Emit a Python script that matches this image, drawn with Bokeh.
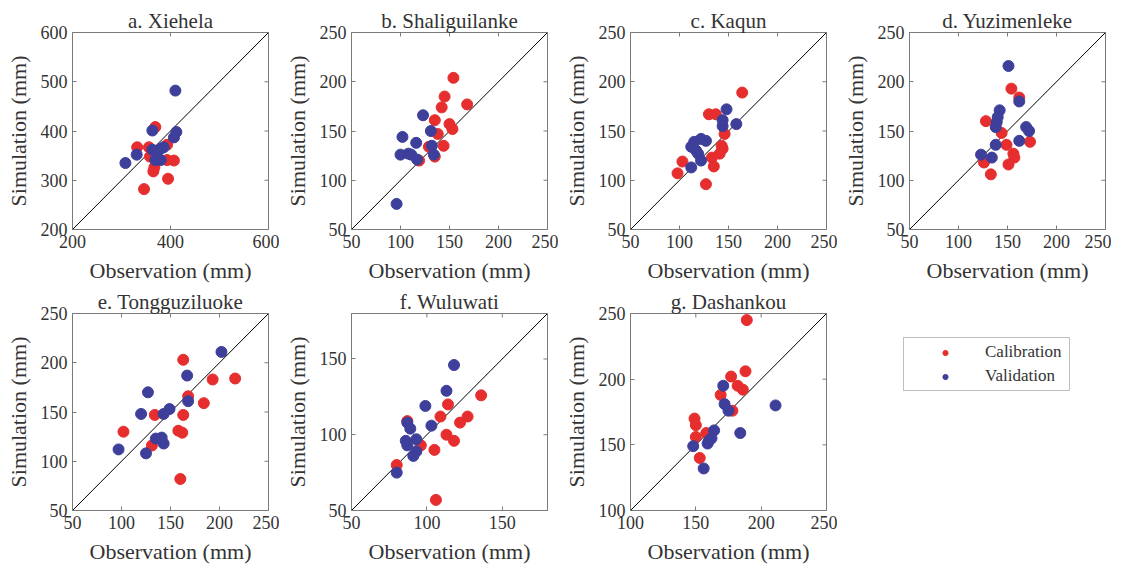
import math
from bokeh.plotting import figure
from bokeh.layouts import column, row
from bokeh.models import FixedTicker, Legend, LegendItem, Range1d
from bokeh.embed import file_html
from bokeh.resources import INLINE

# ---------------- data ----------------
titles = ["a. Xiehela", "b. Shaliguilanke", "c. Kaqun", "d. Yuzimenleke",
          "e. Tongguziluoke", "f. Wuluwati", "g. Dashankou"]
limits = [[200, 600], [50, 250], [50, 250], [50, 250], [50, 250], [50, 180], [100, 250]]
x_ticks = [[200, 400, 600], [50, 100, 150, 200, 250], [50, 100, 150, 200, 250],
           [50, 100, 150, 200, 250], [50, 100, 150, 200, 250], [50, 100, 150],
           [100, 150, 200, 250]]
y_ticks = [[200, 300, 400, 500, 600], [50, 100, 150, 200, 250], [50, 100, 150, 200, 250],
           [50, 100, 150, 200, 250], [50, 100, 150, 200, 250], [50, 100, 150],
           [100, 150, 200, 250]]

xiehela_cal_obs = [332, 356, 358, 369, 393, 393, 407, 367, 365, 346, 395]
xiehela_cal_sim = [367, 367, 348, 408, 372, 341, 340, 326, 318, 282, 303]
xiehela_val_obs = [410, 363, 412, 407, 331, 308, 363, 386, 380, 373, 369, 380]
xiehela_val_sim = [482, 401, 398, 387, 352, 335, 362, 367, 364, 359, 341, 341]

shali_cal_obs = [154, 145, 142, 168, 135, 150, 153, 138, 144, 129, 135, 119]
shali_cal_sim = [204, 185, 174, 177, 161, 157, 152, 147, 135, 134, 124, 120]
shali_val_obs = [96, 100, 102, 108, 111, 116, 117, 123, 131, 132, 134]
shali_val_sim = [76, 126, 144, 127, 126, 138, 121, 166, 150, 135, 126]

kaqun_cal_obs = [164, 130, 137, 146, 143, 144, 141, 133, 135, 103, 98, 127]
kaqun_cal_sim = [189, 167, 167, 147, 135, 132, 127, 123, 114, 119, 107, 96]
kaqun_val_obs = [148, 144, 144, 158, 122, 115, 127, 112, 117, 119, 122, 112]
kaqun_val_sim = [172, 161, 155, 157, 142, 139, 140, 134, 130, 127, 120, 113]

yuzi_cal_obs = [154, 162, 128, 144, 149, 173, 156, 157, 151, 126, 133]
yuzi_cal_sim = [193, 184, 160, 148, 136, 139, 127, 123, 116, 118, 106]
yuzi_val_obs = [151, 162, 142, 140, 139, 138, 169, 172, 162, 138, 123, 134]
yuzi_val_sim = [216, 180, 171, 164, 159, 154, 154, 150, 140, 136, 126, 123]

tong_cal_obs = [163, 193, 216, 184, 168, 163, 134, 102, 158, 162, 131, 160]
tong_cal_sim = [203, 183, 184, 159, 166, 147, 147, 130, 131, 129, 116, 82]
tong_val_obs = [202, 167, 168, 127, 120, 143, 149, 97, 125, 135, 141, 143]
tong_val_sim = [211, 187, 161, 170, 148, 148, 153, 112, 108, 123, 124, 118]

wulu_cal_obs = [136, 114, 109, 127, 122, 113, 118, 105, 96, 87, 80, 106]
wulu_cal_sim = [126, 120, 112, 112, 108, 100, 96, 90, 93, 109, 80, 57]
wulu_val_obs = [118, 113, 99, 103, 87, 89, 86, 87, 93, 93, 91, 80]
wulu_val_sim = [146, 129, 119, 106, 108, 104, 96, 93, 97, 89, 86, 75]

dashan_cal_obs = [189, 188, 177, 182, 186, 169, 178, 149, 150, 150, 158, 153]
dashan_cal_sim = [245, 206, 202, 195, 192, 188, 176, 170, 165, 156, 159, 140]
dashan_val_obs = [171, 211, 172, 175, 164, 162, 159, 160, 184, 148, 156]
dashan_val_sim = [195, 180, 181, 176, 161, 155, 151, 153, 159, 149, 132]

cal_obs = [xiehela_cal_obs, shali_cal_obs, kaqun_cal_obs, yuzi_cal_obs,
           tong_cal_obs, wulu_cal_obs, dashan_cal_obs]
cal_sim = [xiehela_cal_sim, shali_cal_sim, kaqun_cal_sim, yuzi_cal_sim,
           tong_cal_sim, wulu_cal_sim, dashan_cal_sim]
val_obs = [xiehela_val_obs, shali_val_obs, kaqun_val_obs, yuzi_val_obs,
           tong_val_obs, wulu_val_obs, dashan_val_obs]
val_sim = [xiehela_val_sim, shali_val_sim, kaqun_val_sim, yuzi_val_sim,
           tong_val_sim, wulu_val_sim, dashan_val_sim]
legend_labels = ["Calibration", "Validation"]

# ---------------- style ----------------
RED = "#e62e2e"
BLUE = "#3d3f9b"
FONT = "Liberation Serif"
TXT = "#333333"
FRAME = "#7a7a7a"
FW, FH = 196, 197


def style_axis(ax):
    ax.major_tick_in = 4
    ax.major_tick_out = 0
    ax.major_tick_line_color = FRAME
    ax.minor_tick_line_color = None
    ax.axis_line_color = FRAME
    ax.major_label_text_font = FONT
    ax.major_label_text_font_size = "18px"
    ax.major_label_text_color = TXT
    ax.major_label_standoff = 5
    ax.axis_label_text_font = FONT
    ax.axis_label_text_font_size = "22px"
    ax.axis_label_text_font_style = "normal"
    ax.axis_label_text_color = TXT
    ax.axis_label_standoff = 7


def make_panel(i, top, bottom, right):
    lo, hi = limits[i]
    p = figure(frame_width=FW, frame_height=FH,
               x_range=Range1d(lo, hi), y_range=Range1d(lo, hi),
               output_backend="svg", toolbar_location=None,
               min_border_left=72, min_border_right=right,
               min_border_top=top, min_border_bottom=bottom,
               title=titles[i])
    p.title.text_font = FONT
    p.title.text_font_size = "21px"
    p.title.text_font_style = "normal"
    p.title.text_color = TXT
    p.title.align = "center"
    p.title.standoff = 0
    p.grid.visible = False
    p.background_fill_color = "white"
    p.border_fill_color = "white"
    p.outline_line_color = FRAME
    p.outline_line_width = 1

    p.xaxis.ticker = FixedTicker(ticks=x_ticks[i])
    p.yaxis.ticker = FixedTicker(ticks=y_ticks[i])
    p.xaxis.axis_label = "Observation (mm)"
    p.yaxis.axis_label = "Simulation (mm)"
    style_axis(p.xaxis[0])
    style_axis(p.yaxis[0])

    # inward tick marks on the top and right edges (outer half of each dash is clipped)
    p.scatter(x=[hi] * len(y_ticks[i]), y=y_ticks[i], marker="dash", size=8,
              line_color=FRAME, line_width=1)
    p.scatter(x=x_ticks[i], y=[hi] * len(x_ticks[i]), marker="dash", size=8,
              angle=math.pi / 2, line_color=FRAME, line_width=1)

    # diagonal 1:1 line
    p.line(x=limits[i], y=limits[i], line_color="black", line_width=1)
    p.scatter(x=cal_obs[i], y=cal_sim[i], size=11, fill_color=RED, line_color=RED)
    p.scatter(x=val_obs[i], y=val_sim[i], size=11, fill_color=BLUE, line_color=BLUE)
    return p


top_row = [make_panel(0, 32, 57, 11), make_panel(1, 32, 57, 11),
           make_panel(2, 32, 57, 11), make_panel(3, 32, 57, 6)]
bot_row = [make_panel(4, 27, 57, 11), make_panel(5, 27, 57, 11),
           make_panel(6, 27, 57, 11)]

# legend panel (4th column, 2nd row)
pl = figure(width=274, height=281, x_range=Range1d(limits[6][0], limits[6][1]),
            y_range=Range1d(limits[6][0], limits[6][1]),
            output_backend="svg", toolbar_location=None,
            x_axis_location=None, y_axis_location=None,
            min_border_left=0, min_border_right=0, min_border_top=0, min_border_bottom=0)
pl.grid.visible = False
pl.outline_line_color = None
pl.background_fill_color = "white"
pl.border_fill_color = "white"
r_cal = pl.scatter(x=cal_obs[6], y=cal_sim[6], fill_color=RED, line_color=RED, visible=False)
r_val = pl.scatter(x=val_obs[6], y=val_sim[6], fill_color=BLUE, line_color=BLUE, visible=False)
legend = Legend(items=[LegendItem(label=legend_labels[0], renderers=[r_cal]),
                       LegendItem(label=legend_labels[1], renderers=[r_val])],
                location=(66, 119))
legend.label_text_font = FONT
legend.label_text_font_size = "17px"
legend.label_text_color = TXT
legend.border_line_color = "#7f7f7f"
legend.border_line_width = 1
legend.padding = 4
legend.margin = 0
legend.spacing = 4
legend.glyph_width = 74
legend.glyph_height = 13
legend.label_height = 20
legend.label_width = 80
legend.label_standoff = 3
legend.background_fill_alpha = 1
pl.add_layout(legend, "center")
bot_row.append(pl)

layout = column(row(*top_row), row(*bot_row))
open("out.html", "w").write(file_html(layout, INLINE))
